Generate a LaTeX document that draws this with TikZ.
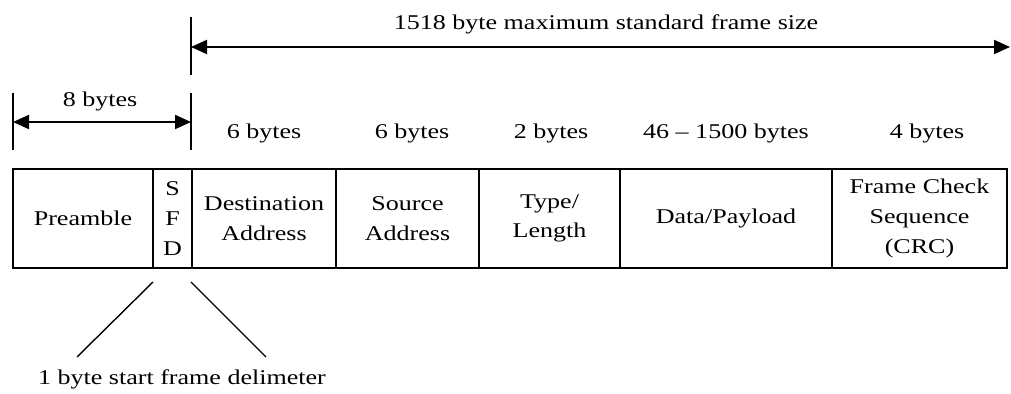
\documentclass[tikz,border=0pt]{standalone}
\usepackage{fontspec}
\setmainfont{Liberation Serif}[FakeStretch=1.24]
\usetikzlibrary{arrows.meta,positioning}
\tikzset{frpanel/.style={
  x=0.5pt, y=-0.5pt,
  font=\fontsize{10.5}{14.8}\selectfont,
  field/.style={draw, line width=0.8pt, minimum height=49.5pt, inner sep=1pt, outer sep=0pt, align=center, anchor=west},
  dimarrow/.style={{Triangle[length=8pt,width=7pt]}-{Triangle[length=8pt,width=7pt]}, line width=1pt},
  endtick/.style={line width=0.8pt},
  leadline/.style={line width=0.7pt},
  bytelab/.style={inner sep=0pt},
}}

\begin{document}
\begin{tikzpicture}[frpanel]
\useasboundingbox (0,0) rectangle (1011,394);

% =====================================================================
% frame fields
% =====================================================================
\node[field, minimum width=70pt] (pre) at (13,218.5) {Preamble};
\node[field, minimum width=19.5pt, right=0pt of pre] (sfd) {S\\F\\D};
\node[field, minimum width=72pt, right=0pt of sfd] (dst) {Destination\\Address};
\node[field, minimum width=71.5pt, right=0pt of dst] (src) {Source\\Address};
\node[field, minimum width=70.5pt, right=0pt of src] (typ) {Type/\\Length};
\node[field, minimum width=106pt, right=0pt of typ] (dat) {Data/Payload};
\node[field, minimum width=87.5pt, right=0pt of dat] (fcs) {Frame Check\\Sequence\\(CRC)};
\draw[line width=1.2pt] (pre.north west) rectangle (fcs.south east);

% =====================================================================
% byte counts
% =====================================================================
\node[bytelab] (bdst) at (264,133) {6 bytes};
\node[bytelab] (bsrc) at (412,133) {6 bytes};
\node[bytelab] (btyp) at (551,133) {2 bytes};
\node[bytelab] (bdat) at (726,133) {46 -- 1500 bytes};
\node[bytelab] (bfcs) at (927,133) {4 bytes};

% =====================================================================
% dimension arrows
% =====================================================================
\coordinate (pretop) at (13,93);
\coordinate (prebot) at (13,150);
\coordinate (sfdtop) at (191,93);
\coordinate (sfdbot) at (191,150);
\coordinate (maxtop) at (191,17);
\coordinate (maxbot) at (191,75);
\draw[endtick] (pretop) -- (prebot);
\draw[endtick] (sfdtop) -- (sfdbot);
\draw[endtick] (maxtop) -- (maxbot);

\coordinate (p8l) at (13,122);
\coordinate (p8r) at (191,122);
\draw[dimarrow] (p8l) -- (p8r);
\node[bytelab] (b8) at (100,101) {8 bytes};

\coordinate (maxl) at (191,47);
\coordinate (maxr) at (1010,47);
\draw[dimarrow] (maxl) -- (maxr);
\node[bytelab] (bmax) at (606,24) {1518 byte maximum standard frame size};

% =====================================================================
% SFD call-out
% =====================================================================
\coordinate (sfdl) at (153,282);
\coordinate (sfdr) at (191,282);
\coordinate (footl) at (77,357);
\coordinate (footr) at (266,357);
\draw[leadline] (sfdl) -- (footl);
\draw[leadline] (sfdr) -- (footr);
\node[bytelab] (delim) at (182,379) {1 byte start frame delimeter};

\end{tikzpicture}
\end{document}
